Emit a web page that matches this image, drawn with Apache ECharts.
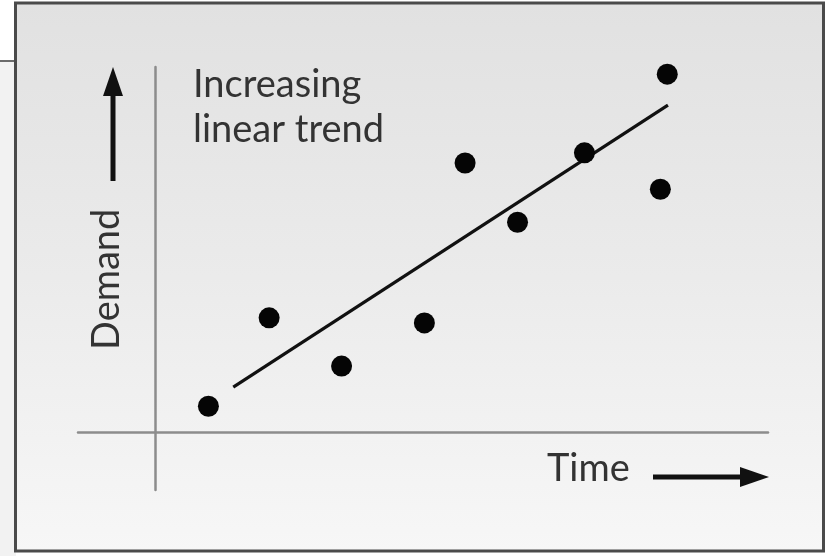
<!DOCTYPE html>
<html>
<head>
<meta charset="utf-8">
<script src="https://cdn.jsdelivr.net/npm/echarts@6/dist/echarts.min.js"></script>
<style>
html,body{margin:0;padding:0;background:#ffffff;}
#chart{width:827px;height:556px;}
</style>
</head>
<body>
<div id="chart"></div>
<script>
const timeValues   = [0.77, 1.65, 2.70, 3.90, 4.49, 5.25, 6.22, 7.32, 7.42];
const demandValues = [0.61, 2.70, 1.56, 2.58, 6.36, 4.96, 6.60, 5.74, 8.46];
// Trend line end points
const trendTime   = [1.13, 7.43];
const trendDemand = [1.06, 7.73];
// Texts
const annotationLines = ['Increasing', 'linear trend'];
const xLabel = 'Time';
const yLabel = 'Demand';

const pts = timeValues.map((t, i) => [t, demandValues[i]]);
const trend = trendTime.map((t, i) => [t, trendDemand[i]]);

const chart = echarts.init(document.getElementById('chart'), null, {renderer: 'canvas'});
const font = 'Lato, "Open Sans", sans-serif';
const textColor = '#333333';

chart.setOption({
  animation: false,
  backgroundColor: 'transparent',
  grid: {left: 78, right: 59, top: 67, bottom: 66},
  xAxis: {
    type: 'value', min: -1.12, max: 8.88,
    axisLine: {show: true, onZero: true, lineStyle: {color: '#8c8c8c', width: 2.5}},
    axisTick: {show: false}, axisLabel: {show: false}, splitLine: {show: false}
  },
  yAxis: {
    type: 'value', min: -1.37, max: 8.63,
    axisLine: {show: true, onZero: true, lineStyle: {color: '#8c8c8c', width: 2.5}},
    axisTick: {show: false}, axisLabel: {show: false}, splitLine: {show: false}
  },
  graphic: [
    {type: 'rect', shape: {x: 0, y: 62, width: 16, height: 494}, style: {fill: '#f2f2f2'}, z: -10},
    {type: 'line', shape: {x1: 0, y1: 61, x2: 15, y2: 61}, style: {stroke: '#3a3a3a', lineWidth: 1.5}, z: -9},
    {type: 'rect', shape: {x: 15.5, y: 3, width: 808, height: 548},
      style: {
        fill: new echarts.graphic.LinearGradient(0, 0, 0, 1, [
          {offset: 0, color: '#e1e1e1'},
          {offset: 0.5, color: '#ebebeb'},
          {offset: 1, color: '#f7f7f7'}
        ]),
        stroke: '#4a4a4a', lineWidth: 3
      }, z: -8},
    {type: 'text', left: 193, top: 62, z: 10,
      style: {text: annotationLines.join('\n'), font: '38px ' + font, fill: textColor, lineHeight: 45}},
    {type: 'text', left: 547, top: 450, z: 10,
      style: {text: xLabel, font: '38px ' + font, fill: textColor}},
    {type: 'text', x: 88, y: 350, rotation: Math.PI / 2, z: 10,
      style: {text: yLabel, font: '38px ' + font, fill: textColor, align: 'left', verticalAlign: 'top'},
      originX: 0, originY: 0},
    {type: 'line', shape: {x1: 113, y1: 181, x2: 113, y2: 90}, style: {stroke: '#111', lineWidth: 5}, z: 10},
    {type: 'polygon', shape: {points: [[113, 67], [103, 96], [123, 96]]}, style: {fill: '#111'}, z: 10},
    {type: 'line', shape: {x1: 653, y1: 477, x2: 745, y2: 477}, style: {stroke: '#111', lineWidth: 5}, z: 10},
    {type: 'polygon', shape: {points: [[769, 477], [740, 467], [740, 487]]}, style: {fill: '#111'}, z: 10}
  ],
  series: [
    {type: 'line', data: trend, showSymbol: false, symbol: 'none',
      lineStyle: {color: '#111', width: 3.2}, z: 3},
    {type: 'scatter', data: pts, symbol: 'circle', symbolSize: 21,
      itemStyle: {color: '#050505', opacity: 1}, z: 4}
  ]
});
</script>
</body>
</html>
